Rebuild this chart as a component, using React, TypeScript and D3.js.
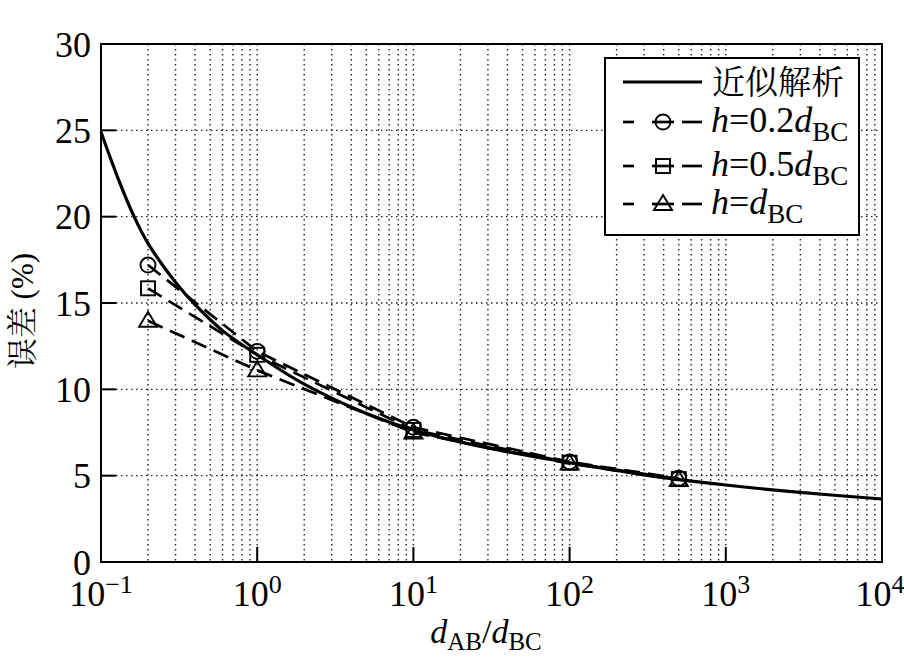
import React from "react";
import * as d3 from "d3";

const approxX = [0.1, 0.13, 0.161, 0.2, 0.3, 0.4, 0.6, 1, 2, 5, 10, 30, 100, 300, 1000, 3000, 10000];
const approxY = [24.9, 22.1, 20.1, 18.45, 16.2, 14.9, 13.4, 12.0, 10.3, 8.6, 7.65, 6.6, 5.75, 5.05, 4.46, 4.03, 3.65];

const ratioX = [0.2, 1, 10, 100, 500];
const h02Y = [17.2, 12.2, 7.8, 5.8, 4.85];
const h05Y = [15.85, 12.0, 7.65, 5.75, 4.8];
const h1Y = [13.97, 11.1, 7.5, 5.7, 4.75];

const yTicks = [0, 5, 10, 15, 20, 25, 30];
const xDecades = [-1, 0, 1, 2, 3, 4];
const legendLabels = ["近似解析", "h=0.2dBC", "h=0.5dBC", "h=dBC"];

const W = 904, H = 659;
const L = 101, R = 882, T = 44, B = 562;
const serif = `"Liberation Serif", serif`;
const cjk = `"Noto Serif CJK SC", "Noto Sans CJK SC", serif`;

function Marker({ kind, x, y }: { kind: string; x: number; y: number }) {
  const sw = 1.9;
  if (kind === "circle") return <circle cx={x} cy={y} r={7.5} fill="none" stroke="#000" strokeWidth={sw} />;
  if (kind === "square") return <rect x={x - 7} y={y - 7} width={14} height={14} fill="none" stroke="#000" strokeWidth={sw} />;
  return <path d={`M${x},${y - 9}L${x + 9},${y + 6}L${x - 9},${y + 6}Z`} fill="none" stroke="#000" strokeWidth={sw} />;
}

export default function App() {
  const x = d3.scaleLog().domain([0.1, 10000]).range([L, R]);
  const y = d3.scaleLinear().domain([0, 30]).range([B, T]);

  const minor: number[] = [];
  for (let n = -1; n < 4; n++) for (let k = 1; k <= 9; k++) minor.push(k * Math.pow(10, n));

  const approxLine = d3.line<number>()
    .x((_, i) => x(approxX[i]))
    .y((d) => y(d))
    .curve(d3.curveCatmullRom.alpha(0.5));

  const seg = d3.line<number>().x((_, i) => x(ratioX[i])).y((d) => y(d));

  const series = [
    { vals: h02Y, kind: "circle" },
    { vals: h05Y, kind: "square" },
    { vals: h1Y, kind: "triangle" },
  ];

  const legRows = [82, 122, 166, 204];
  const serifStyle = { fontFamily: serif };
  const cjkStyle = { fontFamily: cjk };

  return (
    <div style={{ position: "absolute", left: 0, top: 0 }}>
      <svg width={W} height={H} style={{ display: "block", background: "#fff" }}>
        <rect x={0} y={0} width={W} height={H} fill="#fff" />
        {/* grid */}
        <g stroke="#222" strokeWidth={1.4} strokeDasharray="1.5,3.5">
          {minor.map((v, i) => (
            <line key={"gx" + i} x1={x(v)} x2={x(v)} y1={T} y2={B} />
          ))}
          {yTicks.slice(1, -1).map((v) => (
            <line key={"gy" + v} x1={L} x2={R} y1={y(v)} y2={y(v)} />
          ))}
        </g>
        {/* ticks */}
        <g stroke="#000" strokeWidth={2}>
          {yTicks.map((v) => (
            <line key={"ty" + v} x1={L} x2={L + 15} y1={y(v)} y2={y(v)} />
          ))}
          {xDecades.map((n) => (
            <line key={"tx" + n} x1={x(Math.pow(10, n))} x2={x(Math.pow(10, n))} y1={B} y2={B - 15} />
          ))}
        </g>
        {/* data */}
        <path d={approxLine(approxY) || ""} fill="none" stroke="#000" strokeWidth={3.2} />
        {series.map((s, si) => (
          <g key={si}>
            <path d={seg(s.vals) || ""} fill="none" stroke="#000" strokeWidth={2.7} strokeDasharray="16,8" />
            {s.vals.map((v, i) => (
              <Marker key={i} kind={s.kind} x={x(ratioX[i])} y={y(v)} />
            ))}
          </g>
        ))}
        {/* frame */}
        <rect x={L} y={T} width={R - L} height={B - T} fill="none" stroke="#000" strokeWidth={2} />
        {/* y tick labels */}
        {yTicks.map((v) => (
          <text key={"ly" + v} x={91} y={y(v)} dy="0.35em" fontSize={36} textAnchor="end" style={serifStyle}>{v}</text>
        ))}
        {/* x tick labels */}
        {xDecades.map((n) => (
          <text key={"lx" + n} x={x(Math.pow(10, n)) - (n === 4 ? 2 : 0)} y={606} fontSize={36} textAnchor="middle" style={serifStyle}>
            <tspan>10</tspan>
            <tspan fontSize={26} dy={-13}>{n < 0 ? "−" + Math.abs(n) : String(n)}</tspan>
          </text>
        ))}
        {/* axis titles */}
        <text x={486} y={643} style={serifStyle} fontSize={34} textAnchor="middle">
          <tspan fontStyle="italic">d</tspan>
          <tspan fontSize={25} dy={7}>AB</tspan>
          <tspan dy={-7}>/</tspan>
          <tspan fontStyle="italic">d</tspan>
          <tspan fontSize={25} dy={7}>BC</tspan>
        </text>
        <text transform="translate(33,311) rotate(-90)" textAnchor="middle" fontSize={31}>
          <tspan style={cjkStyle}>误差</tspan>
          <tspan style={serifStyle}> (%)</tspan>
        </text>
        {/* legend */}
        <rect x={605} y={58} width={254} height={177} fill="#fff" stroke="#000" strokeWidth={2} />
        <line x1={623} x2={702} y1={legRows[0]} y2={legRows[0]} stroke="#000" strokeWidth={3.2} />
        <text x={712} y={legRows[0]} dy="0.36em" style={cjkStyle} fontSize={33}>{legendLabels[0]}</text>
        {series.map((s, i) => {
          const ry = legRows[i + 1];
          const lab = legendLabels[i + 1];
          const mid = lab.slice(1, lab.length - 3);
          return (
            <g key={"leg" + i}>
              <g stroke="#000" strokeWidth={2.7}>
                <line x1={623} x2={634} y1={ry} y2={ry} />
                <line x1={652} x2={674} y1={ry} y2={ry} />
                <line x1={682} x2={702} y1={ry} y2={ry} />
              </g>
              <Marker kind={s.kind} x={663} y={ry} />
              <text x={711} y={ry + 10} style={serifStyle} fontSize={36}>
                <tspan fontStyle="italic">h</tspan>
                <tspan>{mid}</tspan>
                <tspan fontStyle="italic">d</tspan>
                <tspan fontSize={27} dy={9}>BC</tspan>
              </text>
            </g>
          );
        })}
      </svg>
    </div>
  );
}
